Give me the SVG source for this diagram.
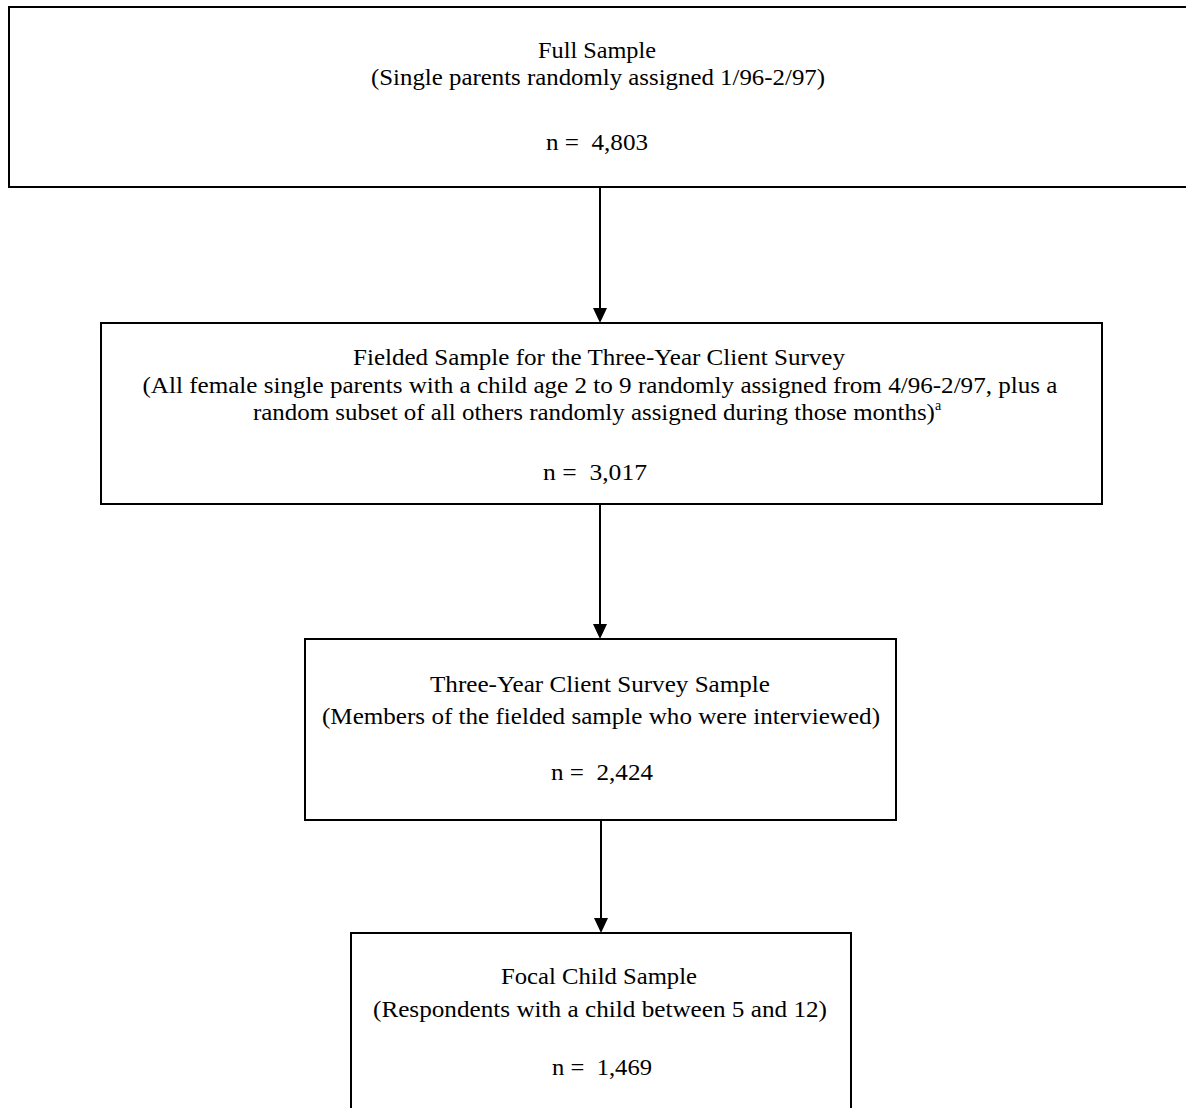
<svg xmlns="http://www.w3.org/2000/svg" width="1186" height="1108" viewBox="0 0 1186 1108">
<defs>
<style>
.box{fill:#fff;stroke:#000;stroke-width:2}
.t{font-family:"Liberation Serif","Times New Roman",serif;font-size:24px;fill:#000;text-anchor:middle}
.c{stroke:#000;stroke-width:2;fill:none}
.h{fill:#000}
</style>
</defs>
<rect width="1186" height="1108" fill="#fff"/>
<g id="connectors">
<line class="c" x1="600" y1="187" x2="600" y2="310"/>
<path class="h" d="M593,308 L607,308 L600,323 Z"/>
<line class="c" x1="600" y1="504" x2="600" y2="626"/>
<path class="h" d="M593,624 L607,624 L600,639 Z"/>
<line class="c" x1="601" y1="820" x2="601" y2="920"/>
<path class="h" d="M594,918 L608,918 L601,933 Z"/>
</g>
<g id="full-sample">
<rect class="box" x="9" y="7" width="1190" height="180"/>
<text class="t" x="597" y="58" textLength="118" lengthAdjust="spacingAndGlyphs">Full Sample</text>
<text class="t" x="598" y="85" textLength="454" lengthAdjust="spacingAndGlyphs">(Single parents randomly assigned 1/96-2/97)</text>
<text class="t" x="597" y="150" xml:space="preserve" textLength="102" lengthAdjust="spacingAndGlyphs">n =  4,803</text>
</g>
<g id="fielded-sample">
<rect class="box" x="101" y="323" width="1001" height="181"/>
<text class="t" x="599" y="365" textLength="492" lengthAdjust="spacingAndGlyphs">Fielded Sample for the Three-Year Client Survey</text>
<text class="t" x="600" y="393" textLength="915" lengthAdjust="spacingAndGlyphs">(All female single parents with a child age 2 to 9 randomly assigned from 4/96-2/97, plus a</text>
<text class="t" x="597" y="420"><tspan textLength="682" lengthAdjust="spacingAndGlyphs">random subset of all others randomly assigned during those months)</tspan><tspan font-size="14" dy="-10">a</tspan></text>
<text class="t" x="595" y="480" xml:space="preserve" textLength="104" lengthAdjust="spacingAndGlyphs">n =  3,017</text>
</g>
<g id="survey-sample">
<rect class="box" x="305" y="639" width="591" height="181"/>
<text class="t" x="600" y="692" textLength="340" lengthAdjust="spacingAndGlyphs">Three-Year Client Survey Sample</text>
<text class="t" x="601" y="724" textLength="558" lengthAdjust="spacingAndGlyphs">(Members of the fielded sample who were interviewed)</text>
<text class="t" x="602" y="780" xml:space="preserve" textLength="102" lengthAdjust="spacingAndGlyphs">n =  2,424</text>
</g>
<g id="focal-child-sample">
<rect class="box" x="351" y="933" width="500" height="200"/>
<text class="t" x="599" y="984" textLength="196" lengthAdjust="spacingAndGlyphs">Focal Child Sample</text>
<text class="t" x="600" y="1017" textLength="454" lengthAdjust="spacingAndGlyphs">(Respondents with a child between 5 and 12)</text>
<text class="t" x="602" y="1075" xml:space="preserve" textLength="100" lengthAdjust="spacingAndGlyphs">n =  1,469</text>
</g>
</svg>
